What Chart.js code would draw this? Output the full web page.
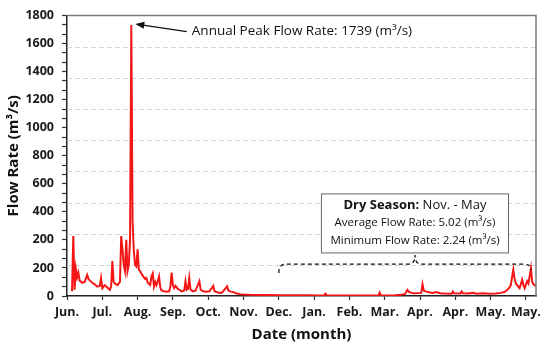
<!DOCTYPE html>
<html>
<head>
<meta charset="utf-8">
<script src="https://cdn.jsdelivr.net/npm/chart.js@4.4.1/dist/chart.umd.min.js"></script>
<style>
  html, body { margin: 0; padding: 0; background: #fff; }
</style>
</head>
<body>
<canvas id="chart" width="550" height="350"></canvas>
<script>
  'use strict';

  // ===========================================================================
  // DATA (day index from the first tick, flow rate in m3/s)
  // ===========================================================================

  const days = [
    4, 5, 6, 7, 8, 9, 10, 12, 14, 16, 17, 18, 20, 22, 24, 26, 27, 28, 30, 32,
    34, 35, 36, 37, 38, 40, 42, 43, 44, 45, 46, 47, 48, 49, 50, 51, 52, 53, 54, 55,
    56, 57, 58, 60, 62, 63, 64, 66, 67, 68, 69, 70, 71, 72, 73, 74, 75, 77, 79, 81,
    82, 83, 84, 85, 86, 88, 89, 91, 93, 94, 95, 96, 97, 98, 100, 102, 105, 106, 108, 110,
    113, 116, 117, 119, 121, 123, 127, 128, 130, 132, 134, 137, 140, 145, 150, 155, 160, 170, 180, 190,
    200, 204, 205, 206, 215, 225, 235, 245, 247, 248, 249, 255, 260, 265, 268, 270, 271, 273, 275, 281,
    282, 283, 285, 288, 290, 293, 296, 300, 305, 306, 307, 312, 313, 314, 318, 322, 325, 330, 335, 340,
    344, 347, 349, 351, 352, 354, 355, 356, 357, 359, 361, 362, 363, 365, 366, 368, 369, 370, 372
  ];
  const flows = [
    30, 385, 40, 175, 120, 150, 100, 85, 90, 135, 110, 100, 85, 75, 60, 65, 115, 50, 70, 55,
    40, 60, 225, 90, 80, 70, 90, 385, 300, 200, 160, 360, 160, 200, 360, 1739, 480, 290, 200, 190,
    300, 170, 160, 130, 110, 115, 85, 70, 125, 145, 60, 90, 70, 95, 125, 55, 35, 30, 28, 30,
    60, 150, 70, 50, 65, 45, 40, 30, 35, 95, 40, 45, 115, 40, 30, 35, 95, 40, 30, 28,
    30, 65, 30, 25, 20, 22, 62, 35, 28, 25, 18, 12, 10, 8, 7, 6, 6, 5, 5, 4.5,
    4, 4, 15, 4, 3.5, 3, 3, 3, 3, 22, 4, 3, 5, 8, 12, 40, 28, 20, 18, 20,
    75, 35, 28, 22, 20, 25, 18, 16, 15, 28, 17, 16, 30, 17, 16, 20, 15, 17, 14, 16,
    20, 25, 38, 55, 70, 170, 110, 80, 70, 50, 105, 70, 50, 95, 80, 178, 90, 75, 62
  ];

  const monthTicks = [0, 28, 56, 84, 112, 140, 168, 196, 224, 252, 280, 308, 336, 364];
  const monthLabels = ['Jun.', 'Jul.', 'Aug.', 'Sep.', 'Oct.', 'Nov.', 'Dec.',
    'Jan.', 'Feb.', 'Mar.', 'Apr.', 'Apr.', 'May.', 'May.'];

  // Labelled ticks every 180, minor ticks every 60, dashed grid every 200.
  const yTickLabels = ['0', '200', '200', '400', '600', '800', '1000', '1200', '1400', '1600', '1800'];
  const yMinorStep = 60;
  const yLabelStep = 180;
  const gridValues = [200, 400, 600, 800, 1000, 1200, 1400, 1600];

  const peakDay = 51;
  const peakValue = 1739;

  const FONT = '"Open Sans", "Noto Sans", sans-serif';

  // ===========================================================================
  // ANNOTATIONS
  // ===========================================================================

  const annotations = {
    id: 'annotations',
    beforeDatasetsDraw(chart) {
      const { ctx, chartArea: a, scales: { y } } = chart;
      ctx.save();
      ctx.strokeStyle = '#d4d4d4';
      ctx.lineWidth = 1;
      ctx.setLineDash([5, 3]);
      gridValues.forEach(v => {
        const gy = Math.round(y.getPixelForValue(v)) + 0.5;
        ctx.beginPath();
        ctx.moveTo(a.left, gy);
        ctx.lineTo(a.right, gy);
        ctx.stroke();
      });
      ctx.restore();
    },
    afterDatasetsDraw(chart) {
      const { ctx, chartArea: a, scales: { x, y } } = chart;
      ctx.save();

      // Frame on top and right.
      ctx.strokeStyle = '#7a7a7a';
      ctx.lineWidth = 1.5;
      ctx.beginPath();
      ctx.moveTo(a.left, a.top);
      ctx.lineTo(a.right, a.top);
      ctx.lineTo(a.right, a.bottom);
      ctx.stroke();

      // Peak arrow + label.
      const px = x.getPixelForValue(peakDay) + 4;
      const py = y.getPixelForValue(peakValue) - 1;
      const lx = x.getPixelForValue(99);
      const ly = y.getPixelForValue(1697);
      const tx = lx - 5;
      const ang = Math.atan2(ly - py, tx - px);
      ctx.strokeStyle = '#111';
      ctx.fillStyle = '#111';
      ctx.lineWidth = 1.3;
      ctx.beginPath();
      ctx.moveTo(tx, ly);
      ctx.lineTo(px + 6 * Math.cos(ang), py + 6 * Math.sin(ang));
      ctx.stroke();
      ctx.beginPath();
      ctx.moveTo(px, py);
      ctx.lineTo(px + 9 * Math.cos(ang) - 3.5 * Math.sin(ang), py + 9 * Math.sin(ang) + 3.5 * Math.cos(ang));
      ctx.lineTo(px + 9 * Math.cos(ang) + 3.5 * Math.sin(ang), py + 9 * Math.sin(ang) - 3.5 * Math.cos(ang));
      ctx.closePath();
      ctx.fill();

      ctx.font = '13.5px ' + FONT;
      ctx.textBaseline = 'middle';
      ctx.textAlign = 'left';
      ctx.fillText('Annual Peak Flow Rate: ' + peakValue + ' (m\u00b3/s)', lx, ly);

      // Dry season box.
      const cx = x.getPixelForValue(276);
      const top = y.getPixelForValue(655);
      const boldPart = 'Dry Season:';
      const restPart = ' Nov. - May';
      const line2 = 'Average Flow Rate: 5.02 (m\u00b3/s)';
      const line3 = 'Minimum Flow Rate: 2.24 (m\u00b3/s)';

      ctx.font = 'bold 13px ' + FONT;
      const wb = ctx.measureText(boldPart).width;
      ctx.font = '13px ' + FONT;
      const wr = ctx.measureText(restPart).width;
      ctx.font = '11.5px ' + FONT;
      const w2 = Math.max(ctx.measureText(line2).width, ctx.measureText(line3).width);
      const bw = Math.max(wb + wr, w2) + 18;
      const bh = 59;

      ctx.fillStyle = '#fff';
      ctx.fillRect(cx - bw / 2, top, bw, bh);
      ctx.strokeStyle = '#666';
      ctx.lineWidth = 1;
      ctx.strokeRect(cx - bw / 2, top, bw, bh);

      ctx.fillStyle = '#111';
      ctx.textAlign = 'left';
      const s1 = cx - (wb + wr) / 2;
      ctx.font = 'bold 13px ' + FONT;
      ctx.fillText(boldPart, s1, top + 11);
      ctx.font = '13px ' + FONT;
      ctx.fillText(restPart, s1 + wb, top + 11);
      ctx.font = '11.5px ' + FONT;
      ctx.textAlign = 'center';
      ctx.fillText(line2, cx, top + 29);
      ctx.fillText(line3, cx, top + 47);

      // Dashed brace under the box.
      const bx1 = x.getPixelForValue(168);
      const bx2 = x.getPixelForValue(368);
      const by1 = y.getPixelForValue(147);
      const by2 = y.getPixelForValue(167);
      const bh0 = y.getPixelForValue(205);
      const r = 7;
      ctx.strokeStyle = '#111';
      ctx.lineWidth = 1.3;
      ctx.setLineDash([4, 3]);
      ctx.beginPath();
      ctx.moveTo(bx1, by1);
      ctx.quadraticCurveTo(bx1, bh0, bx1 + r, bh0);
      ctx.lineTo(cx - 6, bh0);
      ctx.quadraticCurveTo(cx, bh0, cx, top + bh + 2);
      ctx.quadraticCurveTo(cx, bh0, cx + 6, bh0);
      ctx.lineTo(bx2 - r, bh0);
      ctx.quadraticCurveTo(bx2, bh0, bx2, by2);
      ctx.stroke();
      ctx.setLineDash([]);

      ctx.restore();
    },
  };

  // ===========================================================================
  // CHART
  // ===========================================================================

  const tickFont = { family: FONT, size: 12.5, weight: 'bold' };

  new Chart(document.getElementById('chart'), {
    type: 'line',
    data: {
      datasets: [{
        data: days.map((d, i) => ({ x: d, y: flows[i] })),
        borderColor: '#f41515',
        borderWidth: 2,
        pointRadius: 0,
        tension: 0,
        fill: false,
      }],
    },
    options: {
      responsive: false,
      animation: false,
      layout: { padding: { left: 0, right: 14, top: 15, bottom: 0 } },
      plugins: {
        legend: { display: false },
        tooltip: { enabled: false },
      },
      scales: {
        x: {
          type: 'linear',
          min: 0,
          max: 372,
          afterBuildTicks: s => { s.ticks = monthTicks.map(v => ({ value: v })); },
          afterFit: s => { s.height = 54; },
          ticks: {
            autoSkip: false,
            maxRotation: 0,
            padding: 5,
            color: '#1a1a1a',
            font: tickFont,
            callback: (v, i) => monthLabels[i],
          },
          grid: { drawOnChartArea: false, tickLength: 4, tickColor: '#333', tickWidth: 1.2 },
          border: { color: '#222', width: 1.5 },
          title: {
            display: true,
            text: 'Date (month)',
            color: '#111',
            font: { family: FONT, size: 15, weight: 'bold' },
            padding: { top: 0, bottom: 6 },
          },
        },
        y: {
          type: 'linear',
          min: 0,
          max: 1800,
          afterBuildTicks: s => {
            const t = [];
            for (let v = 0; v <= 1800; v += yMinorStep) t.push({ value: v });
            s.ticks = t;
          },
          afterFit: s => { s.width = 67; },
          ticks: {
            autoSkip: false,
            padding: 8,
            color: '#1a1a1a',
            font: tickFont,
            callback: v => (v % yLabelStep === 0 ? yTickLabels[v / yLabelStep] : ''),
          },
          grid: { drawOnChartArea: false, tickLength: 5, tickColor: '#333', tickWidth: 1.2 },
          border: { color: '#222', width: 1.5 },
          title: {
            display: true,
            text: 'Flow Rate (m\u00b3/s)',
            color: '#111',
            font: { family: FONT, size: 15, weight: 'bold' },
            padding: { top: 5, bottom: 0 },
          },
        },
      },
    },
    plugins: [annotations],
  });
</script>
</body>
</html>
